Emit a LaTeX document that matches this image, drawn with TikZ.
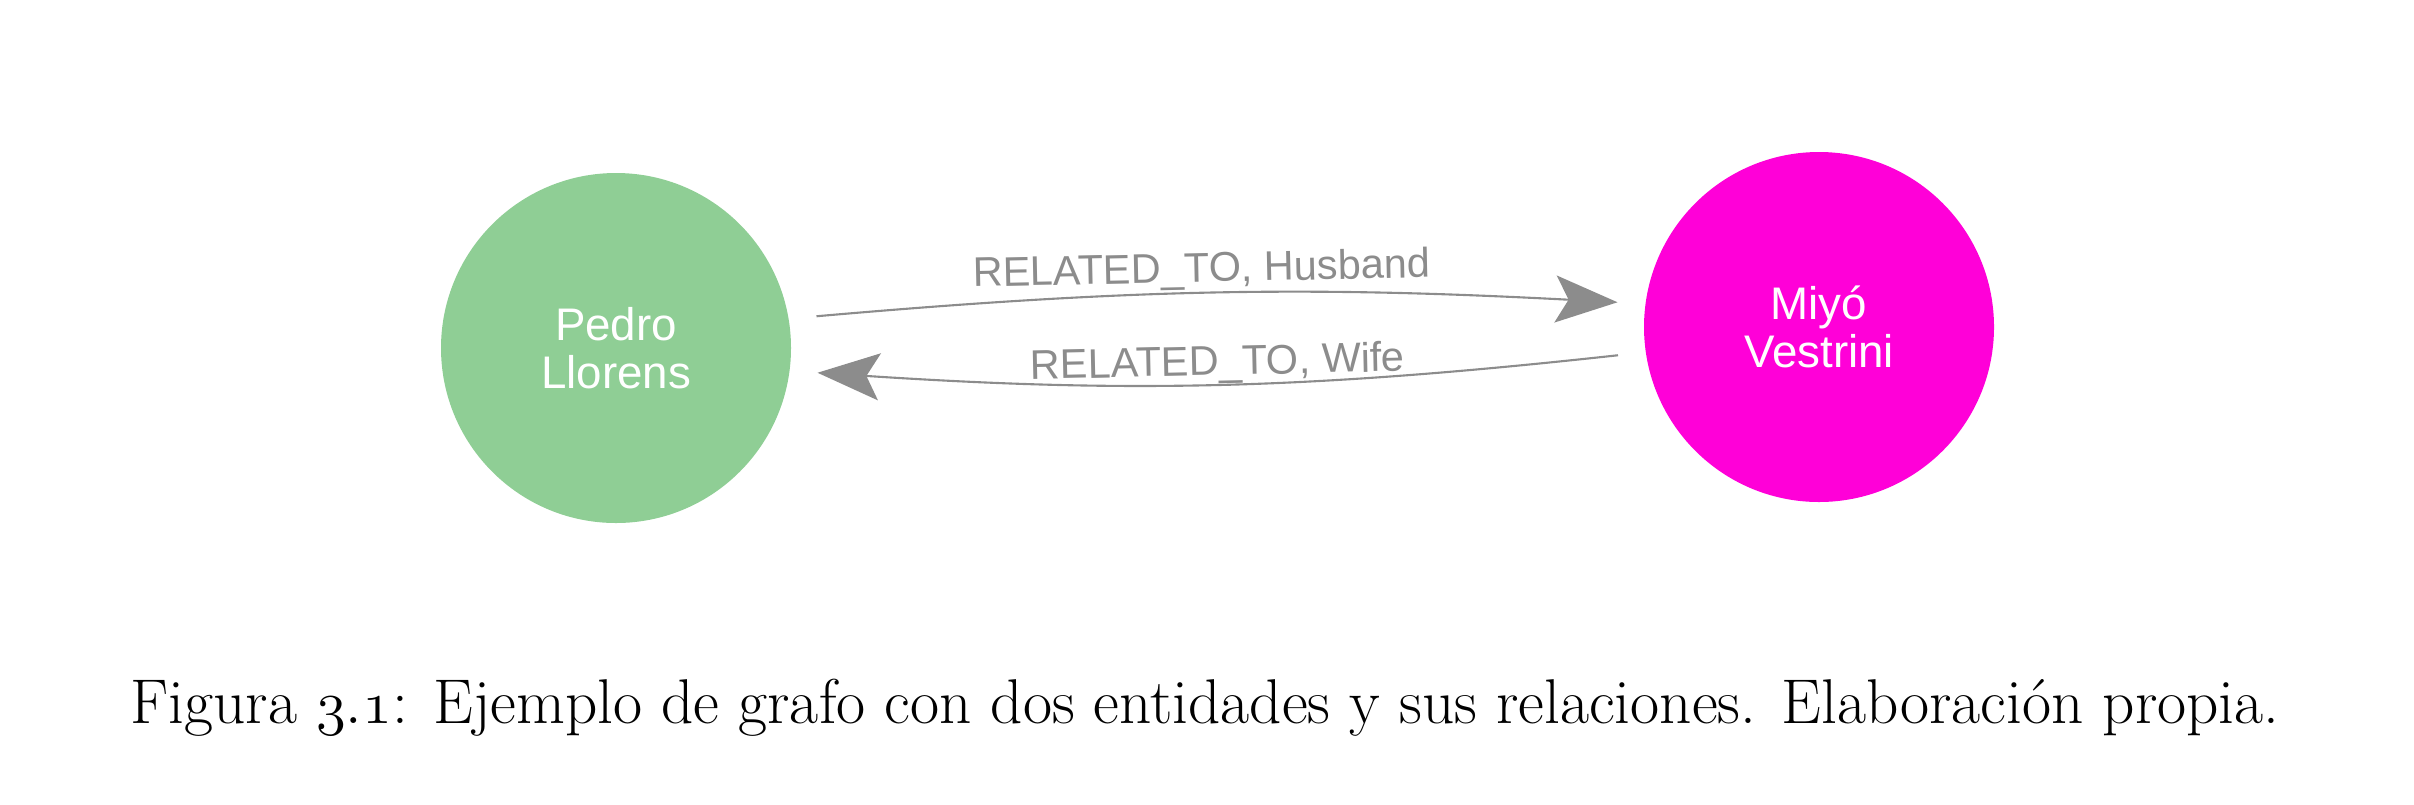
\documentclass[tikz,border=0pt]{standalone}
\usepackage{fontspec}
\newfontfamily\neofont{Liberation Sans}
\usetikzlibrary{arrows.meta}
\definecolor{cgreen}{HTML}{8FCE95}
\definecolor{cmagenta}{HTML}{FF00D8}
\definecolor{cgrey}{HTML}{8C8C8C}
\tikzset{
  every picture/.style={line width=0.6pt},
  entity/.style={circle, fill=#1, minimum size=3.5cm, inner sep=0pt, outer sep=0.28cm, align=center, text=white, font=\neofont\fontsize{13}{13.5}\selectfont},
  entity/.default=cgreen,
  rel/.style={-{Stealth[length=6.2mm, width=4.7mm, inset=1.3mm]}, draw=cgrey, line width=0.6pt},
  rellabel/.style={font=\neofont\fontsize{11.8}{14}\selectfont, text=cgrey, inner sep=0.5pt, sloped},
  caption/.style={font=\fontsize{18}{21}\selectfont},
}

\begin{document}
\begin{tikzpicture}
  \useasboundingbox (0,0) rectangle (24.14,8.04);
  \node[entity=cgreen] (pedro) at (6.16,4.56) {Pedro\\Llorens};
  \node[entity=cmagenta] (miyo) at (18.19,4.77) {Miyó\\Vestrini};
  \draw[rel] (pedro.9) to[bend left=4] node[rellabel, above, pos=0.48] {RELATED\_TO, Husband} (miyo.173);
  \draw[rel] (miyo.188) to[bend left=5] node[rellabel, above, inner sep=0pt] {RELATED\_TO, Wife} (pedro.-7);
  \node[caption, anchor=base] (cap) at (12.05,0.81) {Figura $\mathnormal{3.1}$: Ejemplo de grafo con dos entidades y sus relaciones. Elaboración propia.};
\end{tikzpicture}
\end{document}
